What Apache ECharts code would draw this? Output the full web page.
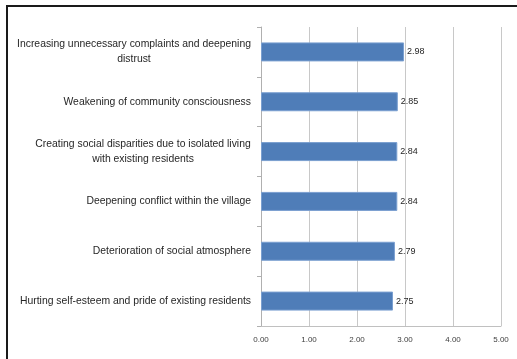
<!DOCTYPE html>
<html>
<head>
<meta charset="utf-8">
<style>
  html, body { margin: 0; padding: 0; background: #ffffff; }
  #chart { width: 517px; height: 359px; }
</style>
<script src="https://cdn.jsdelivr.net/npm/echarts@6/dist/echarts.min.js"></script>
</head>
<body>
<div id="chart"></div>
<script>
// Perceived negative effects, mean scores (top to bottom)
const categories = [
  'Increasing unnecessary complaints and deepening\ndistrust',
  'Weakening of community consciousness',
  'Creating social disparities due to isolated living\nwith existing residents',
  'Deepening conflict within the village',
  'Deterioration of social atmosphere',
  'Hurting self-esteem and pride of existing residents'
];
const scores = [2.98, 2.85, 2.84, 2.84, 2.79, 2.75];
const xTicks = ['0.00', '1.00', '2.00', '3.00', '4.00', '5.00'];

const FONT = 'Liberation Sans';
const LABEL_SIZE = 10.4;
const TEXT_COLOR = '#262626';

// Width of the longest line of each label, so wrapped lines can be centred on each other
const ctx = document.createElement('canvas').getContext('2d');
ctx.font = LABEL_SIZE + 'px "' + FONT + '"';
function lineWidth(s) { return Math.ceil(ctx.measureText(s).width); }

const rich = {};
const labelKeys = {};
categories.forEach((c, i) => {
  const lines = c.split('\n');
  if (lines.length > 1) {
    const w = Math.max.apply(null, lines.map(lineWidth));
    const key = 'l' + i;
    rich[key] = { width: w, align: 'center', fontSize: LABEL_SIZE, fontFamily: FONT, color: TEXT_COLOR, lineHeight: 15 };
    labelKeys[c] = lines.map(l => '{' + key + '|' + l + '}').join('\n');
  }
});

const chart = echarts.init(document.getElementById('chart'), null, { renderer: 'canvas' });
chart.setOption({
  animation: false,
  backgroundColor: '#ffffff',
  graphic: [{
    type: 'rect',
    shape: { x: 7, y: 6, width: 530, height: 380 },
    style: { fill: 'none', stroke: '#1a1a1a', lineWidth: 2 },
    silent: true
  }],
  grid: { left: 261, right: 16, top: 27, bottom: 33, containLabel: false },
  xAxis: {
    type: 'value',
    min: 0,
    max: 5,
    interval: 1,
    axisLine: { show: true, lineStyle: { color: '#c0c0c0', width: 1 } },
    axisTick: { show: false },
    splitLine: { show: true, lineStyle: { color: '#c8c8c8', width: 1 } },
    axisLabel: {
      margin: 10,
      fontSize: 8,
      fontFamily: FONT,
      color: '#404040',
      formatter: v => xTicks[Math.round(v)]
    }
  },
  yAxis: {
    type: 'category',
    inverse: true,
    data: categories,
    axisLine: { show: true, lineStyle: { color: '#b0b0b0', width: 1 } },
    axisTick: { show: true, length: 4, lineStyle: { color: '#b0b0b0' } },
    splitLine: { show: false },
    axisLabel: {
      margin: 10,
      fontSize: LABEL_SIZE,
      fontFamily: FONT,
      color: TEXT_COLOR,
      lineHeight: 15,
      rich: rich,
      formatter: v => labelKeys[v] || v
    }
  },
  series: [{
    type: 'bar',
    data: scores,
    barWidth: 19,
    itemStyle: { color: '#4f7db8', borderColor: '#7a9fd0', borderWidth: 1 },
    label: {
      show: true,
      position: 'right',
      distance: 3,
      fontSize: 9,
      fontFamily: FONT,
      color: TEXT_COLOR,
      formatter: p => p.value.toFixed(2)
    }
  }]
});
</script>
</body>
</html>
